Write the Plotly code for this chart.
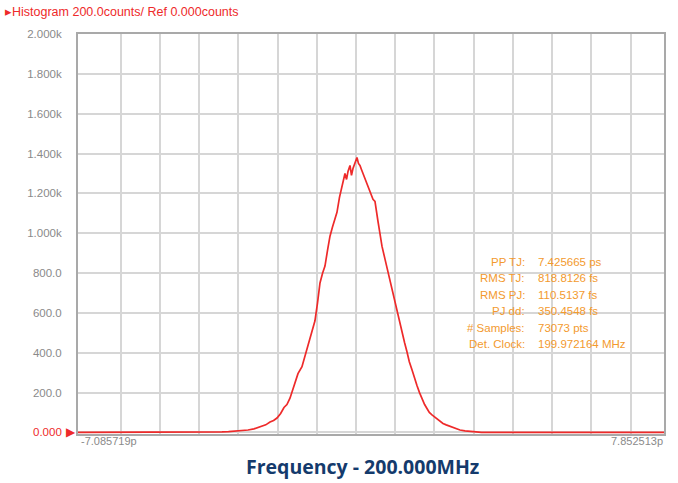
import plotly.graph_objects as go

# Histogram of time interval error (ps) vs counts
time_ps = [-7.085719, -3.60, -3.415, -3.25, -3.084, -2.92, -2.752, -2.60, -2.446, -2.30,
           -2.191, -2.10, -2.013, -1.92, -1.835, -1.76, -1.682, -1.58, -1.478, -1.376,
           -1.30, -1.249, -1.15, -1.045, -0.98, -0.917, -0.85, -0.790, -0.72, -0.662,
           -0.60, -0.535, -0.484, -0.42, -0.37, -0.331, -0.280, -0.240, -0.203, -0.152,
           -0.114, -0.076, -0.025, 0.026, 0.064, 0.102, 0.140, 0.179, 0.217, 0.256,
           0.30, 0.357, 0.40, 0.434, 0.485, 0.52, 0.561, 0.61, 0.663, 0.74,
           0.816, 0.90, 0.98, 1.045, 1.11, 1.173, 1.24, 1.300, 1.36, 1.428,
           1.49, 1.555, 1.62, 1.683, 1.75, 1.810, 1.87, 1.938, 2.00, 2.065,
           2.14, 2.218, 2.30, 2.396, 2.52, 2.651, 2.78, 2.906, 3.00, 3.110,
           3.20, 7.852513]
counts = [0, 0, 3, 4, 6, 8, 12, 18, 30, 38,
          52, 60, 72, 95, 125, 140, 172, 230, 295, 330,
          380, 420, 480, 560, 650, 750, 800, 835, 920, 985,
          1030, 1070, 1105, 1180, 1220, 1255, 1300, 1270, 1310, 1340,
          1290, 1325, 1350, 1380, 1350, 1340, 1320, 1300, 1275, 1260,
          1230, 1205, 1180, 1170, 1160, 1100, 1060, 1000, 935, 870,
          805, 730, 660, 605, 550, 500, 450, 405, 355, 315,
          270, 235, 200, 170, 140, 120, 100, 88, 78, 68,
          55, 45, 38, 30, 20, 12, 8, 5, 3, 2,
          0, 0]

y_tickvals = [0, 200, 400, 600, 800, 1000, 1200, 1400, 1600, 1800, 2000]
y_ticktext = ["", "200.0", "400.0", "600.0", "800.0", "1.000k", "1.200k", "1.400k",
              "1.600k", "1.800k", "2.000k"]
x_gridvals = [-6, -5, -4, -3, -2, -1, 0, 1, 2, 3, 4, 5, 6, 7]
x_min_label = "-7.085719p"
x_max_label = "7.852513p"

stat_labels = ["PP TJ:", "RMS TJ:", "RMS PJ:", "PJ dd:", "# Samples:", "Det. Clock:"]
stat_values = ["7.425665 ps", "818.8126 fs", "110.5137 fs", "350.4548 fs", "73073 pts", "199.972164 MHz"]

title_text = "▸Histogram 200.0counts/ Ref 0.000counts"
caption_text = "Frequency - 200.000MHz"

RED = "#ee2a2a"
ORANGE = "#f39a2e"
GRAY_TXT = "#8a8a8a"
FONT = "Liberation Sans, Arial, sans-serif"

# plot area in pixels: x 78..664, y 34..434
PL, PR, PT, PB = 78, 664, 34, 434
PW, PH = PR - PL, PB - PT


def px_x(x):
    return (x - PL) / PW


def px_y(y):
    return (PB - y) / PH


fig = go.Figure()
fig.add_trace(go.Scatter(x=time_ps, y=counts, mode="lines",
                         line=dict(color=RED, width=1.7, shape="linear"),
                         hoverinfo="skip", showlegend=False))

fig.update_layout(
    width=678, height=483,
    margin=dict(l=PL, r=678 - PR, t=PT, b=483 - PB, autoexpand=False),
    paper_bgcolor="white", plot_bgcolor="white",
    showlegend=False,
    font=dict(family=FONT, size=11, color=GRAY_TXT),
)
fig.update_xaxes(range=[-7.085719, 7.852513], tickvals=x_gridvals, showticklabels=False,
                 showgrid=True, gridcolor="#d6d6d6", gridwidth=1.5, zeroline=False,
                 showline=True, linecolor="#a9a9a9", linewidth=2, mirror=True, ticks="",
                 automargin=False)
fig.update_yaxes(range=[-8, 2000], tickvals=y_tickvals, ticktext=y_ticktext,
                 showgrid=True, gridcolor="#d6d6d6", gridwidth=1.5, zeroline=False,
                 showline=True, linecolor="#a9a9a9", linewidth=2, mirror=True,
                 ticks="outside", ticklen=12, tickcolor="rgba(0,0,0,0)", automargin=False,
                 tickfont=dict(family=FONT, size=11.5, color=GRAY_TXT))

ann = []
ann.append(dict(text=title_text, x=px_x(3), y=px_y(12), xref="paper", yref="paper", xanchor="left",
                yanchor="middle", showarrow=False,
                font=dict(family=FONT, size=12.5, color=RED)))
ann.append(dict(text="0.000", x=px_x(64), y=0, xref="paper", yref="y", xanchor="right",
                yanchor="middle", showarrow=False,
                font=dict(family=FONT, size=11.5, color=RED)))
ann.append(dict(text="▶", x=px_x(78), y=0, xref="paper", yref="y", xanchor="right",
                yanchor="middle", showarrow=False,
                font=dict(family="DejaVu Sans", size=12, color=RED)))
ann.append(dict(text=x_min_label, x=px_x(79), y=px_y(441), xref="paper", yref="paper", xanchor="left",
                yanchor="middle", showarrow=False,
                font=dict(family=FONT, size=11, color=GRAY_TXT)))
ann.append(dict(text=x_max_label, x=px_x(665), y=px_y(441), xref="paper", yref="paper", xanchor="right",
                yanchor="middle", showarrow=False,
                font=dict(family=FONT, size=11, color=GRAY_TXT)))
ann.append(dict(text="<b>" + caption_text + "</b>", x=px_x(362), y=px_y(466), xref="paper", yref="paper",
                xanchor="center", yanchor="middle", showarrow=False,
                font=dict(family="Open Sans, sans-serif", size=19.5, color="#143a6c")))

for i, (lab, val) in enumerate(zip(stat_labels, stat_values)):
    yp = px_y(262 + i * 16.4)
    ann.append(dict(text=lab, x=px_x(527), y=yp, xref="paper", yref="paper",
                    xanchor="right", yanchor="middle", showarrow=False,
                    font=dict(family=FONT, size=11.5, color=ORANGE)))
    ann.append(dict(text=val, x=px_x(536), y=yp, xref="paper", yref="paper",
                    xanchor="left", yanchor="middle", showarrow=False,
                    font=dict(family=FONT, size=11.5, color=ORANGE)))

fig.update_layout(annotations=ann)
fig.write_html("out.html", config={"displayModeBar": False},
               post_script="document.body.style.margin='0';document.body.style.padding='0';")
